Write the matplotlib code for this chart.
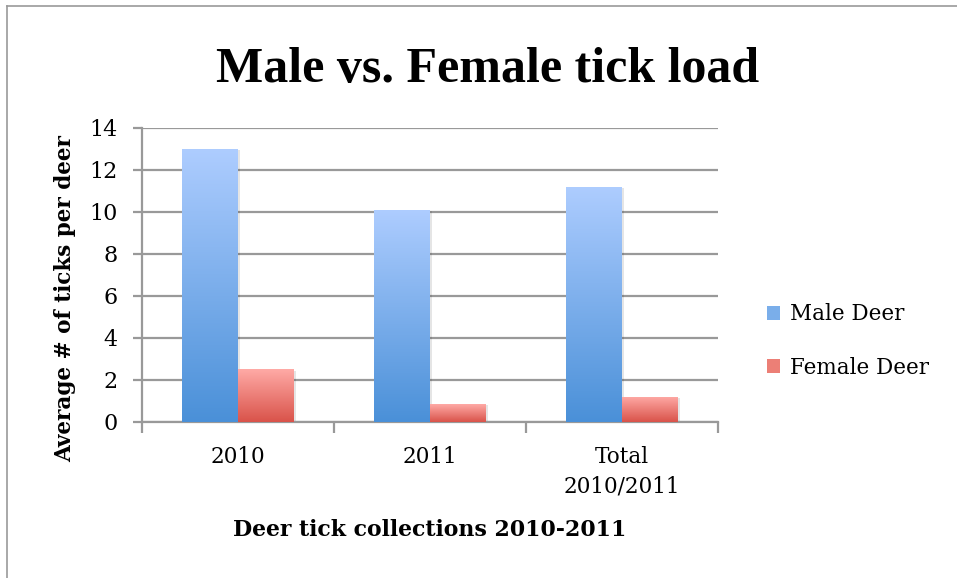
import matplotlib
matplotlib.use('Agg')
import matplotlib.pyplot as plt
import numpy as np
from matplotlib.colors import LinearSegmentedColormap
from matplotlib.patches import Patch, Rectangle

plt.rcParams['font.family'] = ['DejaVu Serif']

# Data
categories = ['2010', '2011', 'Total\n2010/2011']
male_deer = [13.0, 10.1, 11.2]
female_deer = [2.5, 0.85, 1.2]
series_names = ['Male Deer', 'Female Deer']

# gradient colours (top, bottom)
grad = {
    'male': ('#aecdff', '#4a90d8'),
    'female': ('#ffaaa6', '#d9534a'),
}

fig = plt.figure(figsize=(9.57, 5.78), dpi=100)
ax = fig.add_axes([0.1484, 0.2699, 0.602, 0.5087])

x = np.arange(len(categories))
w = 0.29
bars_m = ax.bar(x - w / 2, male_deer, w, zorder=3, facecolor='none', edgecolor='none')
bars_f = ax.bar(x + w / 2, female_deer, w, zorder=3, facecolor='none', edgecolor='none')


def fill_gradient(bars, key):
    top, bottom = grad[key]
    cmap = LinearSegmentedColormap.from_list(key, [bottom, top])
    g = np.linspace(0, 1, 256).reshape(-1, 1)
    for b in bars:
        x0, y0 = b.get_x(), b.get_y()
        bw, bh = b.get_width(), b.get_height()
        # soft shadow
        ax.add_patch(Rectangle((x0 + 0.012, y0), bw, bh - 0.05, facecolor='#000000',
                               alpha=0.10, edgecolor='none', zorder=2))
        im = ax.imshow(g, cmap=cmap, origin='lower', aspect='auto',
                       extent=[x0, x0 + bw, y0, y0 + bh], zorder=3)
        im.set_clip_path(b)


fill_gradient(bars_m, 'male')
fill_gradient(bars_f, 'female')
ax.set_xlim(-0.5, 2.5)
ax.set_ylim(0, 14)

# grid and axes styling
ax.set_yticks(range(0, 15, 2))
ax.yaxis.grid(True, color='#999999', linewidth=1.6, zorder=0)
ax.set_axisbelow(True)
for s in ['top', 'right']:
    ax.spines[s].set_visible(False)
for s in ['left', 'bottom']:
    ax.spines[s].set_color('#999999')
    ax.spines[s].set_linewidth(1.6)

ax.set_xticks([-0.5, 0.5, 1.5, 2.5])
ax.set_xticklabels([])
ax.set_xticks(x, minor=True)
ax.set_xticklabels(categories, minor=True, fontsize=15.5, linespacing=1.45)
ax.tick_params(axis='x', which='major', length=8, width=1.6, color='#999999')
ax.tick_params(axis='x', which='minor', length=0, pad=17)
ax.tick_params(axis='y', length=6.5, width=1.6, color='#999999', labelsize=16, pad=11)

ax.set_ylabel('Average # of ticks per deer', fontsize=15.5, fontweight='bold')
ax.yaxis.set_label_coords(-0.134, 0.42)
ax.set_xlabel('Deer tick collections 2010-2011', fontsize=15.8, fontweight='bold')
ax.xaxis.set_label_coords(0.5, -0.367)
ax.xaxis.label.set_va('center')
ax.yaxis.label.set_va('center')

fig.text(0.51, 1 - 82 / 578, 'Male vs. Female tick load', ha='center', va='baseline',
         fontsize=36, fontweight='bold', family=['Liberation Serif', 'DejaVu Serif'])

handles = [Patch(facecolor='#7aaeea', edgecolor='none'),
           Patch(facecolor='#ec7f76', edgecolor='none')]
fig.legend(handles, series_names, loc='center left', bbox_to_anchor=(0.781, 0.41),
           frameon=False, fontsize=15.5, handlelength=0.6, handleheight=0.6,
           labelspacing=1.45, handletextpad=0.5)

# outer chart frame (cut at right and bottom)
fig.add_artist(plt.Line2D([7 / 957, 7 / 957], [0, 1 - 6 / 578], color='#999999',
                          linewidth=1.2, transform=fig.transFigure))
fig.add_artist(plt.Line2D([7 / 957, 1], [1 - 6 / 578, 1 - 6 / 578], color='#999999',
                          linewidth=1.2, transform=fig.transFigure))

fig.savefig('out.png', dpi=100, facecolor='white')
